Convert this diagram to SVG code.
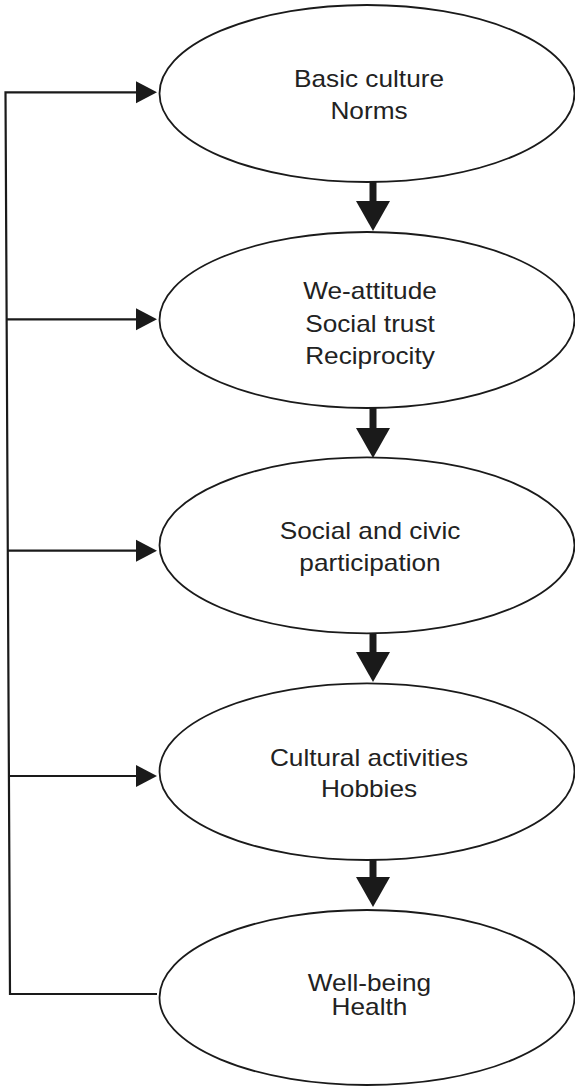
<svg xmlns="http://www.w3.org/2000/svg" width="575" height="1087" viewBox="0 0 575 1087">
  <style>
    .node ellipse { fill: #ffffff; stroke: #1a1a1a; stroke-width: 1.8; }
    .node text { font-family: "Liberation Sans", Arial, sans-serif; font-size: 23px; fill: #222222; text-anchor: middle; }
    .conn { stroke: #1a1a1a; stroke-width: 2.2; fill: none; }
    .down { stroke: #1a1a1a; stroke-width: 7; fill: none; }
  </style>
  <defs>
    <marker id="headSide" markerUnits="userSpaceOnUse" markerWidth="21" markerHeight="22" refX="0" refY="11" orient="auto" overflow="visible">
      <path d="M0,0 L21,11 L0,22 Z" fill="#1a1a1a"/>
    </marker>
    <marker id="headDown" markerUnits="userSpaceOnUse" markerWidth="30" markerHeight="34" refX="0" refY="17" orient="auto" overflow="visible">
      <path d="M0,0 L30,17 L0,34 Z" fill="#1a1a1a"/>
    </marker>
  </defs>
  <rect x="0" y="0" width="575" height="1087" fill="#ffffff"/>

  <g id="node-basic-culture" class="node">
    <ellipse cx="367" cy="93.5" rx="207.5" ry="88.5"/>
    <g transform="translate(369 0) scale(1.14 1)">
      <text x="0" y="86.7">Basic culture</text>
      <text x="0" y="119.3">Norms</text>
    </g>
  </g>

  <g id="node-we-attitude" class="node">
    <ellipse cx="367" cy="320" rx="207.5" ry="88"/>
    <g transform="translate(370 0) scale(1.14 1)">
      <text x="0" y="299.3">We-attitude</text>
      <text x="0" y="332.2">Social trust</text>
      <text x="0" y="364">Reciprocity</text>
    </g>
  </g>

  <g id="node-participation" class="node">
    <ellipse cx="367" cy="545.3" rx="207.5" ry="88"/>
    <g transform="translate(370 0) scale(1.14 1)">
      <text x="0" y="539.3">Social and civic</text>
      <text x="0" y="570.7">participation</text>
    </g>
  </g>

  <g id="node-cultural" class="node">
    <ellipse cx="367" cy="771.7" rx="207.5" ry="88.3"/>
    <g transform="translate(369 0) scale(1.14 1)">
      <text x="0" y="766">Cultural activities</text>
      <text x="0" y="797.3">Hobbies</text>
    </g>
  </g>

  <g id="node-wellbeing" class="node">
    <ellipse cx="367" cy="997.5" rx="207.5" ry="87.5"/>
    <g transform="translate(369.5 0) scale(1.14 1)">
      <text x="0" y="991">Well-being</text>
      <text x="0" y="1015">Health</text>
    </g>
  </g>

  <g id="connectors">
    <line class="down" x1="373" y1="182" x2="373" y2="201" marker-end="url(#headDown)"/>
    <line class="down" x1="373" y1="408" x2="373" y2="428" marker-end="url(#headDown)"/>
    <line class="down" x1="373" y1="633" x2="373" y2="652" marker-end="url(#headDown)"/>
    <line class="down" x1="373" y1="860" x2="373" y2="877" marker-end="url(#headDown)"/>

    <polyline class="conn" points="157,994 10,994 5.5,92.3 136,92.3" marker-end="url(#headSide)"/>
    <line class="conn" x1="6.6" y1="319.3" x2="136" y2="319.3" marker-end="url(#headSide)"/>
    <line class="conn" x1="7.8" y1="550.7" x2="136" y2="550.7" marker-end="url(#headSide)"/>
    <line class="conn" x1="8.9" y1="776" x2="136" y2="776" marker-end="url(#headSide)"/>
  </g>
</svg>
